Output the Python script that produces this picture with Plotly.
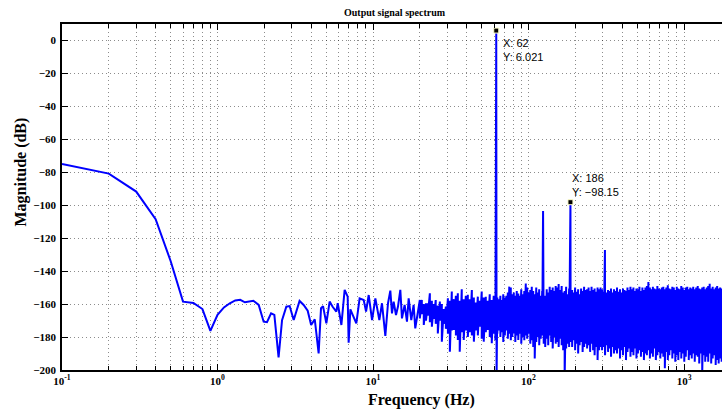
import numpy as np
import plotly.graph_objects as go

# Smooth low-frequency part of the output spectrum (Hz, dB)
LOW_F = [0.1, 0.2, 0.3, 0.4, 0.5, 0.6, 0.7, 0.8, 0.9, 1.0,
         1.1, 1.2, 1.3, 1.4, 1.5, 1.6, 1.7, 1.84, 1.98, 2.08,
         2.21, 2.32, 2.47, 2.60, 2.77, 2.91, 3.09, 3.37, 3.58, 3.80,
         4.0, 4.22, 4.47, 4.63, 4.77, 5.01, 5.26, 5.5, 5.81, 5.93,
         6.26, 6.57, 6.87, 6.97, 7.15, 7.33, 7.81, 8.2, 8.71, 9.02,
         9.38, 9.86, 10.35, 10.98, 11.42, 12.0, 12.48, 12.92, 13.24, 13.57,
         14.05, 14.47, 14.98, 15.35, 15.97, 16.53, 16.95, 17.62, 18.24, 18.69,
         19.45]
LOW_DB = [-75.0, -80.8, -91.7, -108.5, -134.0, -158.5, -159.3, -163.0, -176.3, -166.5,
          -162.0, -159.5, -157.8, -157.4, -158.9, -158.6, -158.0, -160.5, -170.7, -171.0,
          -165.6, -166.6, -192.3, -169.7, -161.6, -161.2, -169.7, -158.1, -160.5, -164.0,
          -172.7, -169.2, -189.9, -162.5, -161.2, -171.7, -158.5, -161.6, -164.6, -159.5,
          -172.7, -151.4, -155.5, -183.4, -163.2, -165.6, -171.7, -156.5, -157.5, -164.6,
          -154.5, -169.7, -156.5, -169.7, -159.5, -179.3, -159.5, -151.8, -165.6, -158.5,
          -166.6, -161.5, -151.4, -168.7, -160.5, -170.7, -156.5, -169.7, -160.5, -174.7,
          -163.6]

# Noise floor above 20 Hz: upper and lower swing of the spectrum at each frequency (dB)
FLOOR_F = [20.0, 20.6, 21.2, 21.9, 22.5, 23.2, 23.9, 24.6, 25.3, 26.1,
           26.9, 27.7, 28.5, 29.4, 30.3, 31.2, 32.1, 33.1, 34.1, 35.1,
           36.1, 37.2, 38.3, 39.5, 40.7, 41.9, 43.2, 44.5, 45.8, 47.2,
           48.6, 50.0, 51.5, 53.1, 54.7, 56.3, 58.0, 59.7, 61.2,
           63.0, 64.4, 65.9, 67.3, 68.8, 70.4, 72.0, 73.6, 75.2, 76.9,
           78.6, 80.4, 82.2, 84.0, 85.9, 87.8, 89.8, 91.8, 93.9, 96.0,
           98.1, 100.3, 102.6, 104.9, 107.2, 109.6, 112.1, 114.6, 117.1, 119.8,
           122.4, 125.2, 128.0, 130.9, 133.8, 136.8, 139.8, 143.0, 146.2, 149.5,
           152.8, 156.2, 159.7, 163.3, 167.0, 170.7, 174.5, 178.4, 182.4, 186.5,
           190.7, 195.0, 199.3, 203.8, 208.4, 213.0, 217.8, 222.7, 227.7, 232.8,
           238.0, 243.3, 248.8, 254.3, 260.0, 265.9, 271.8, 277.9, 284.1, 290.5,
           297.0, 303.6, 310.4, 317.4, 324.5, 331.7, 339.2, 346.8, 354.5, 362.5,
           370.6, 378.9, 387.3, 396.0, 404.9, 414.0, 423.2, 432.7, 442.4, 452.3,
           462.4, 472.7, 483.3, 494.1, 505.2, 516.5, 528.0, 539.8, 551.9, 564.3,
           576.9, 589.8, 603.0, 616.5, 630.3, 644.4, 658.8, 673.6, 688.6, 704.0,
           719.8, 735.9, 752.4, 769.2, 786.4, 804.0, 822.0, 840.4, 859.2, 878.4,
           898.1, 918.2, 938.8, 959.8, 981.3, 1003.2, 1025.7, 1048.7, 1072.1, 1096.1,
           1120.7, 1145.8, 1171.4, 1197.7, 1224.5, 1251.9, 1279.9, 1308.6, 1337.9, 1367.8,
           1398.5, 1429.8, 1461.8, 1494.5, 1528.0, 1562.2, 1597.2, 1633.0, 1669.5, 1706.9,
           1745.1]
FLOOR_HI = [-157.5, -157.5, -160.0, -159.5, -159.5, -153.4, -158.0, -160.0, -157.5, -161.0,
            -158.5, -160.0, -163.0, -161.5, -156.5, -158.0, -152.4, -157.0, -155.0, -153.4,
            -158.0, -151.0, -157.0, -155.0, -154.4, -157.0, -151.4, -156.0, -159.0, -155.5,
            -158.0, -152.4, -156.0, -155.5, -158.0, -154.0, -157.5, -155.0, -156.0,
            -156.0, -157.0, -155.0, -157.5, -154.0, -156.0, -155.0, -153.0, -149.4, -150.0,
            -154.0, -153.0, -155.0, -152.0, -153.5, -155.0, -151.0, -154.0, -152.0, -147.5,
            -150.0, -153.0, -151.5, -149.5, -152.0, -154.0, -150.0, -153.0, -151.0, -155.0,
            -152.0, -153.5, -155.0, -151.0, -153.0, -149.5, -151.4, -150.0, -152.0, -149.0,
            -150.0, -147.8, -151.4, -149.0, -153.0, -152.0, -149.5, -154.0, -150.5, -152.0,
            -151.4, -153.0, -150.0, -152.5, -151.0, -154.0, -150.5, -152.0, -149.5, -151.5,
            -151.0, -150.0, -152.0, -149.5, -151.4, -150.5, -152.5, -150.0, -151.0, -150.0,
            -151.0, -152.5, -150.0, -153.0, -151.5, -152.0, -150.5, -153.0, -151.0, -152.0,
            -150.0, -152.5, -151.0, -153.0, -150.5, -151.5, -152.0, -150.0, -151.5, -149.5,
            -151.0, -150.0, -152.0, -150.5, -151.0, -149.5, -152.0, -150.0, -151.5, -150.0,
            -149.0, -146.6, -150.0, -151.0, -149.5, -150.5, -151.0, -149.0, -150.5, -151.0,
            -150.0, -149.5, -151.0, -150.0, -148.5, -150.5, -151.0, -149.5, -150.0, -151.5,
            -149.5, -150.5, -151.0, -149.0, -150.0, -151.5, -150.0, -149.5, -151.0, -150.0,
            -150.5, -149.5, -151.0, -150.0, -149.0, -150.5, -151.0, -150.0, -149.5, -151.0,
            -150.0, -149.0, -147.6, -150.5, -149.5, -151.0, -150.0, -149.0, -150.5, -150.0,
            -150.5]
FLOOR_LO = [-168.7, -166.0, -172.7, -170.0, -167.0, -171.0, -173.7, -169.0, -172.0, -177.8,
            -170.0, -182.8, -172.0, -175.0, -178.0, -188.9, -176.0, -175.7, -179.0, -181.8,
            -188.9, -177.0, -181.8, -176.0, -180.0, -177.0, -179.0, -182.8, -176.0, -179.0,
            -173.7, -181.0, -182.8, -177.0, -175.7, -180.0, -183.8, -178.0, -182.0,
            -178.0, -176.0, -180.0, -177.0, -183.0, -179.0, -176.0, -181.0, -178.0, -182.0,
            -180.0, -177.8, -183.0, -179.0, -181.8, -178.0, -184.0, -180.0, -182.0, -179.0,
            -181.0, -178.0, -184.0, -182.0, -186.0, -193.0, -183.0, -180.0, -185.0, -181.0,
            -179.0, -184.0, -186.0, -181.0, -185.0, -179.0, -183.0, -187.0, -180.0, -184.0,
            -183.0, -186.0, -181.0, -185.0, -188.0, -205.0, -187.0, -184.0, -186.0, -183.0,
            -186.0, -182.0, -188.0, -184.0, -190.0, -185.0, -183.0, -189.0, -186.0, -184.0,
            -187.0, -185.0, -189.0, -184.0, -188.0, -191.0, -186.0, -194.0, -188.0, -186.0,
            -188.0, -186.0, -191.0, -185.0, -189.0, -187.0, -192.0, -186.0, -190.0, -188.0,
            -190.0, -187.0, -193.0, -188.0, -191.0, -186.0, -194.0, -189.0, -187.0, -192.0,
            -189.0, -191.0, -187.0, -193.0, -190.0, -188.0, -192.0, -189.0, -194.0, -190.0,
            -191.0, -188.0, -193.0, -190.0, -192.0, -187.0, -194.0, -191.0, -189.0, -193.0,
            -190.0, -192.0, -199.0, -189.0, -194.0, -191.0, -188.0, -193.0, -190.0, -195.0,
            -191.0, -194.0, -189.0, -193.0, -190.0, -195.0, -192.0, -188.0, -194.0, -191.0,
            -193.0, -190.0, -195.0, -191.0, -192.0, -196.0, -190.0, -202.0, -191.0, -195.0,
            -192.0, -195.0, -190.0, -196.0, -193.0, -191.0, -197.0, -194.0, -196.0, -193.0,
            -195.0]

# Fundamental and harmonic lines, and the null next to the fundamental
LINE_F = [62, 124, 186, 310]
LINE_DB = [6.021, -103.5, -98.15, -127.2]
NULL_F = [62.3]
NULL_DB = [-205.0]

# Data tips
TIP_F = [62, 186]
TIP_DB = [6.021, -98.15]

X_TICKS = [0.1, 1, 10, 100, 1000]
X_TICK_TEXT = ["10<sup>-1</sup>", "10<sup>0</sup>", "10<sup>1</sup>",
               "10<sup>2</sup>", "10<sup>3</sup>"]
X_MINOR = [d * 10.0 ** e for e in range(-1, 4) for d in range(2, 10)]

# Assemble one frequency-ordered trace
pts = list(zip(LOW_F, LOW_DB))
for f, hi, lo in zip(FLOOR_F, FLOOR_HI, FLOOR_LO):
    pts.append((f, hi))
    pts.append((f, lo))
pts += list(zip(LINE_F, LINE_DB))
pts += list(zip(NULL_F, NULL_DB))
pts.sort(key=lambda p: p[0])
freq = [p[0] for p in pts]
mag = [p[1] for p in pts]

SERIF = "Liberation Serif, Times New Roman, serif"
SANS = "Liberation Sans, Arial, sans-serif"
GRID = "rgba(0,0,0,0.45)"
GRID_DASH = "1px,3px"

fig = go.Figure()
fig.add_trace(go.Scatter(x=freq, y=mag, mode="lines",
                         line=dict(color="#0000ff", width=2),
                         hoverinfo="skip"))
fig.add_trace(go.Scatter(x=TIP_F, y=TIP_DB, mode="markers",
                         marker=dict(symbol="square", size=5, color="black",
                                     line=dict(color="#ffffc8", width=1)),
                         hoverinfo="skip"))

fig.update_xaxes(
    type="log", range=[-1, np.log10(1754)],
    tickmode="array", tickvals=X_TICKS, ticktext=X_TICK_TEXT,
    ticks="inside", ticklen=6, tickwidth=1, tickcolor="black",
    showline=True, linecolor="black", linewidth=1.5, mirror="ticks",
    showgrid=True, gridcolor=GRID, griddash=GRID_DASH, gridwidth=1,
    tickfont=dict(family=SERIF, size=11, color="black", weight="bold"),
    minor=dict(tickmode="array", tickvals=X_MINOR, ticks="inside", ticklen=4,
               tickcolor="black", showgrid=True, gridcolor=GRID,
               griddash=GRID_DASH, gridwidth=1),
    zeroline=False,
)
fig.update_yaxes(
    range=[-200, 10], tick0=0, dtick=20,
    ticks="inside", ticklen=6, tickwidth=1, tickcolor="black",
    showline=True, linecolor="black", linewidth=1.5, mirror=False,
    showgrid=True, gridcolor=GRID, griddash=GRID_DASH, gridwidth=1,
    tickfont=dict(family=SERIF, size=11, color="black", weight="bold"),
    zeroline=False, ticklabelstandoff=2,
)

annotations = [
    dict(text="<b>Output signal spectrum</b>", xref="paper", yref="paper",
         x=0.5045, y=1.033, xanchor="center", yanchor="middle", showarrow=False,
         font=dict(family=SERIF, size=10, color="black")),
    dict(text="<b>Frequency (Hz)</b>", xref="paper", yref="paper",
         x=0.544, y=-0.0867, xanchor="center", yanchor="middle", showarrow=False,
         font=dict(family=SERIF, size=16, color="black")),
    dict(text="<b>Magnitude (dB)</b>", xref="paper", yref="paper",
         x=-0.0636, y=0.5708, xanchor="center", yanchor="middle", showarrow=False,
         textangle=-90, font=dict(family=SERIF, size=16, color="black")),
]
tip_anchor = [("top", 5, -4), ("bottom", 0, 2)]
for (f, db), (ya, xs, ys) in zip(zip(TIP_F, TIP_DB), tip_anchor):
    label = f"X: {f}<br>Y: {db}".replace("-", "\u2212")
    annotations.append(dict(text=label, x=np.log10(f), y=db, xref="x", yref="y",
                            xanchor="left", yanchor=ya, xshift=xs, yshift=ys,
                            align="left", showarrow=False,
                            font=dict(family=SANS, size=11, color="black")))

fig.update_layout(width=722, height=410,
                  margin=dict(l=62, r=0, t=24, b=40),
                  paper_bgcolor="white", plot_bgcolor="white",
                  showlegend=False, annotations=annotations)

fig.write_html("out.html")
